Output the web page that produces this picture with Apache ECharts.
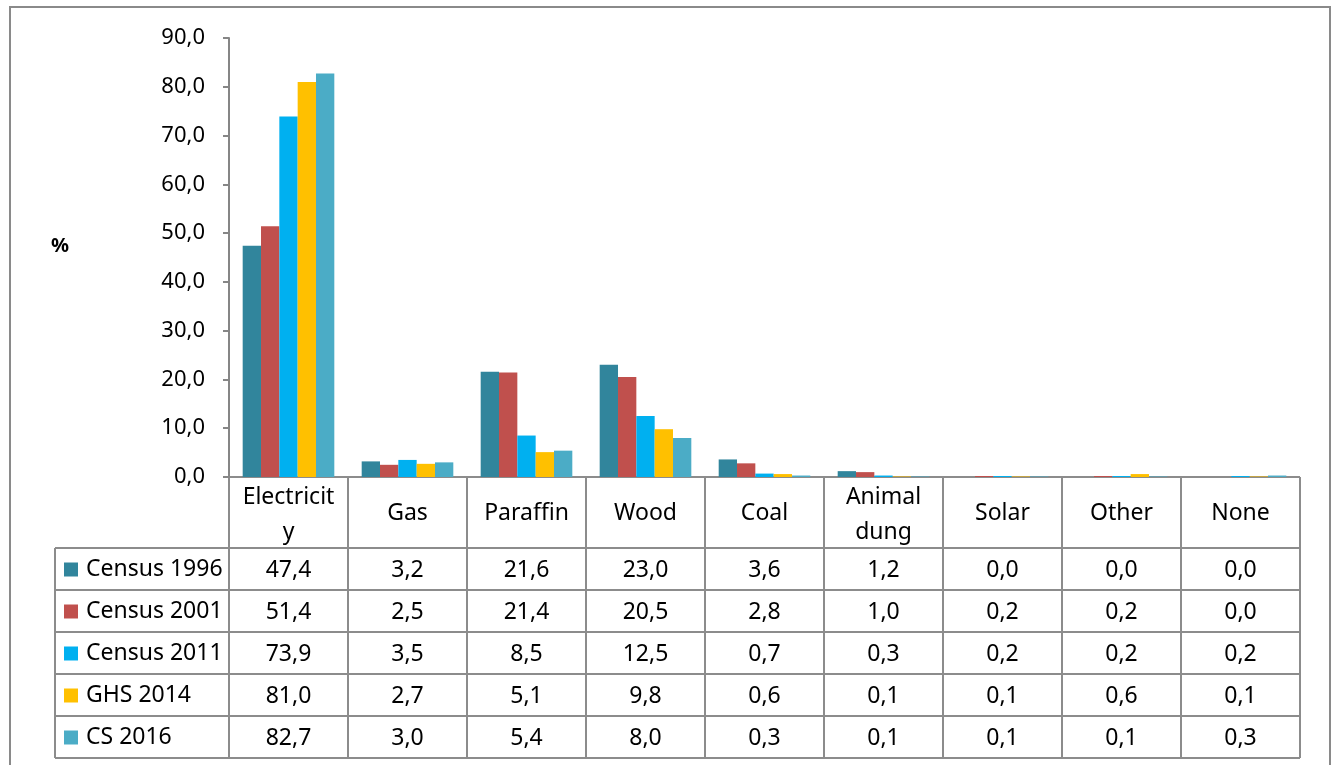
<!DOCTYPE html>
<html>
<head>
<meta charset="utf-8">
<script src="https://cdn.jsdelivr.net/npm/echarts@6/dist/echarts.min.js"></script>
<style>
html,body{margin:0;padding:0;background:#fff;}
#c{width:1336px;height:765px;}
</style>
</head>
<body>
<div id="c"></div>
<script>
const categories = ['Electricity','Gas','Paraffin','Wood','Coal','Animal dung','Solar','Other','None'];
const headerLabels = ['Electricit\ny','Gas','Paraffin','Wood','Coal','Animal\ndung','Solar','Other','None'];
const seriesNames = ['Census 1996','Census 2001','Census 2011','GHS 2014','CS 2016'];
const census1996 = [47.4, 3.2, 21.6, 23.0, 3.6, 1.2, 0.0, 0.0, 0.0];
const census2001 = [51.4, 2.5, 21.4, 20.5, 2.8, 1.0, 0.2, 0.2, 0.0];
const census2011 = [73.9, 3.5, 8.5, 12.5, 0.7, 0.3, 0.2, 0.2, 0.2];
const ghs2014    = [81.0, 2.7, 5.1, 9.8, 0.6, 0.1, 0.1, 0.6, 0.1];
const cs2016     = [82.7, 3.0, 5.4, 8.0, 0.3, 0.1, 0.1, 0.1, 0.3];
const yTicks = { min: 0, max: 90, interval: 10 };

const seriesData = [census1996, census2001, census2011, ghs2014, cs2016];
const colors = ['#31859C', '#C0504D', '#00B0F0', '#FFC000', '#4BACC6'];
const FONT = '"Noto Sans", "Open Sans", sans-serif';
const fmt = v => v.toFixed(1).replace('.', ',');

// layout
const W = 1336, H = 765;
const gL = 229, gR = 1300, gT = 38, gB = 477;
const headerH = 71, rowH = 42, tableL = 55;
const lineColor = '#8c8c8c';
const TFS = 23;

const chart = echarts.init(document.getElementById('c'), null, { renderer: 'canvas' });

function labelFormatter(value, idx) {
  const h = headerLabels[idx];
  let s;
  if (h.indexOf('\n') >= 0) {
    const parts = h.split('\n');
    s = '{h2a|' + parts[0] + '}\n{h2b|' + parts[1] + '}';
  } else {
    s = '{h1|' + h + '}';
  }
  seriesData.forEach(arr => { s += '\n{v|' + fmt(arr[idx]) + '}'; });
  return s;
}

const nCat = categories.length;
const colW = (gR - gL) / nCat;
const tableB = gB + headerH + rowH * seriesNames.length;

const graphics = [];
graphics.push({ type: 'rect', shape: { x: 10, y: 7, width: 1320, height: 800 }, style: { fill: 'none', stroke: '#8a8a8a', lineWidth: 2 }, silent: true });
graphics.push({ type: 'line', shape: { x1: gL, y1: gB, x2: gR, y2: gB }, style: { stroke: lineColor, lineWidth: 2 } });
for (let r = 0; r <= seriesNames.length; r++) {
  const y = gB + headerH + r * rowH;
  graphics.push({ type: 'line', shape: { x1: tableL, y1: y, x2: gR, y2: y }, style: { stroke: lineColor, lineWidth: 2 } });
}
graphics.push({ type: 'line', shape: { x1: tableL, y1: gB + headerH, x2: tableL, y2: tableB }, style: { stroke: lineColor, lineWidth: 2 } });
for (let c = 0; c <= nCat; c++) {
  const x = gL + c * colW;
  graphics.push({ type: 'line', shape: { x1: x, y1: gB, x2: x, y2: tableB }, style: { stroke: lineColor, lineWidth: 2 } });
}
graphics.push({ type: 'text', x: 51, y: 246, style: { text: '%', font: 'bold 20px ' + FONT, fill: '#000', verticalAlign: 'middle' } });

const option = {
  animation: false,
  backgroundColor: '#fff',
  color: colors,
  grid: { left: gL, right: W - gR, top: gT, bottom: H - gB, containLabel: false },
  legend: {
    orient: 'vertical',
    left: 59,
    top: gB + headerH + rowH / 2 - 16,
    height: 400,
    itemWidth: 14,
    itemHeight: 14,
    itemGap: rowH - 23,
    icon: 'rect',
    selectedMode: false,
    data: seriesNames,
    textStyle: { fontFamily: FONT, fontSize: TFS, color: '#000', padding: [0, 0, 0, 3] }
  },
  xAxis: {
    type: 'category',
    data: categories,
    axisLine: { show: false },
    axisTick: { show: false },
    splitLine: { show: false },
    axisLabel: {
      interval: 0,
      margin: 1,
      formatter: labelFormatter,
      color: '#000',
      fontFamily: FONT,
      fontSize: TFS,
      rich: {
        h1: { fontFamily: FONT, fontSize: TFS, lineHeight: headerH, color: '#000' },
        h2a: { fontFamily: FONT, fontSize: TFS, lineHeight: 38, color: '#000' },
        h2b: { fontFamily: FONT, fontSize: TFS, lineHeight: 33, color: '#000' },
        v: { fontFamily: FONT, fontSize: TFS, lineHeight: rowH, color: '#000' }
      }
    }
  },
  yAxis: {
    type: 'value',
    min: yTicks.min,
    max: yTicks.max,
    interval: yTicks.interval,
    axisLine: { show: true, lineStyle: { color: '#868686', width: 2 } },
    axisTick: { show: true, length: 6, lineStyle: { color: '#868686', width: 2 } },
    splitLine: { show: false },
    axisLabel: { formatter: v => fmt(v), fontFamily: FONT, fontSize: 22, color: '#000', margin: 24 }
  },
  series: seriesNames.map((n, i) => ({
    name: n,
    type: 'bar',
    data: seriesData[i],
    barGap: '0%',
    barCategoryGap: '23%',
    itemStyle: { color: colors[i] }
  })),
  graphic: graphics
};
chart.setOption(option);
</script>
</body>
</html>
